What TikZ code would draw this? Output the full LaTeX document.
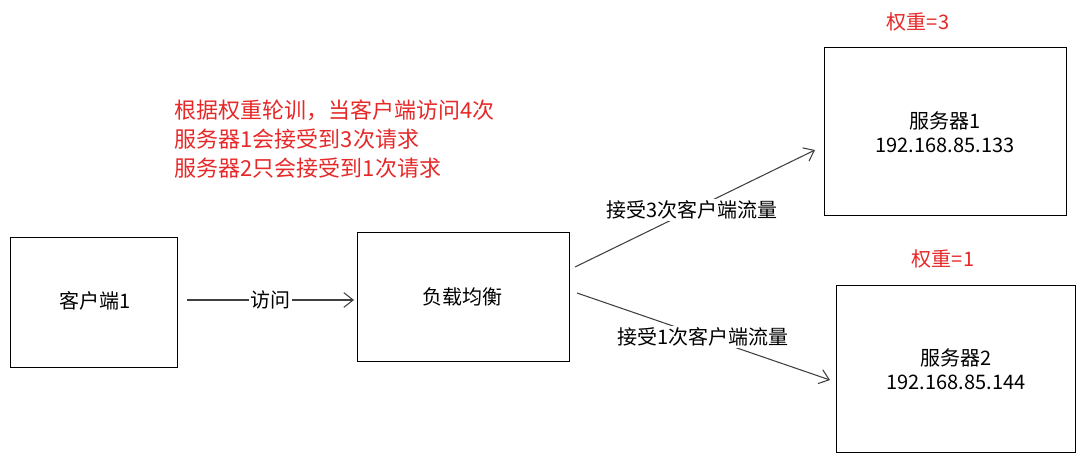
\documentclass[tikz,border=0pt]{standalone}
\usepackage{fontspec}
\setmainfont{Noto Sans CJK SC}
\usetikzlibrary{arrows.meta}
\definecolor{hintred}{RGB}{230,40,40}

\tikzset{
  box/.style={draw, line width=0.7pt},
  flow/.style={draw=black!75, line width=0.8pt, -{Straight Barb[length=7pt,width=11pt]}},
  txt/.style={font=\fontsize{15pt}{18pt}\selectfont, inner sep=1pt},
  note/.style={txt, text=hintred}
}

\begin{document}
\begin{tikzpicture}[x=0.75pt,y=-0.75pt]
  \useasboundingbox (0,0) rectangle (1089,464);

  % boxes
  \draw[box] (10,237) rectangle (177,367);
  \draw[box] (357,232) rectangle (569,361);
  \draw[box] (824,47) rectangle (1066,215);
  \draw[box] (836,285) rectangle (1075,452);

  \node[txt] (client) at (95,301) {客户端1};
  \node[txt] (lb) at (462,297) {负载均衡};
  \node[txt, align=center] (srvA) at (945,132) {服务器1\\192.168.85.133};
  \node[txt, align=center] (srvB) at (956,369) {服务器2\\192.168.85.144};

  \node[note] (wA) at (918,22) {权重=3};
  \node[note] (wB) at (943,259) {权重=1};
  \node[note, align=left, anchor=north west,
        font=\fontsize{16.5pt}{22pt}\selectfont] (rule) at (173,98)
    {根据权重轮训，当客户端访问4次\\服务器1会接受到3次请求\\服务器2只会接受到1次请求};

  % connectors
  \coordinate (c1) at (187,300);  \coordinate (c2) at (354,300);
  \coordinate (l1) at (575,267);  \coordinate (a1) at (815,150);
  \coordinate (l2) at (577,293);  \coordinate (b1) at (830,380);

  \draw[flow] (c1) -- (c2) node[midway, fill=white, txt] (visit) {访问};
  \draw[flow] (l1) -- (a1);
  \draw[flow] (l2) -- (b1);
  \node[txt, fill=white] (fA) at (692,210) {接受3次客户端流量};
  \node[txt, fill=white] (fB) at (703,337) {接受1次客户端流量};
\end{tikzpicture}
\end{document}
